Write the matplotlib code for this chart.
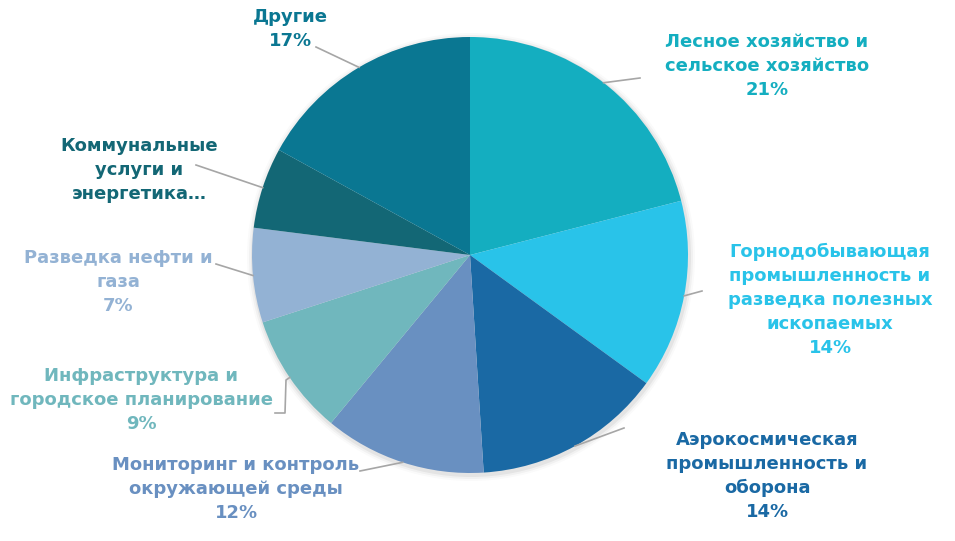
import numpy as np
import matplotlib.pyplot as plt

# Доли отраслей, %
labels = [
    "Лесное хозяйство и\nсельское хозяйство",
    "Горнодобывающая\nпромышленность и\nразведка полезных\nископаемых",
    "Аэрокосмическая\nпромышленность и\nоборона",
    "Мониторинг и контроль\nокружающей среды",
    "Инфраструктура и\nгородское планирование",
    "Разведка нефти и\nгаза",
    "Коммунальные\nуслуги и\nэнергетика…",
    "Другие",
]
shares = [21, 14, 14, 12, 9, 7, 6, 17]
show_pct = [True, True, True, True, True, True, False, True]
colors = ["#14AEC0", "#29C3E9", "#1A69A4", "#6990C1",
          "#70B7BD", "#93B2D4", "#136775", "#0A7792"]

# где стоят подписи (пиксели, y сверху) и куда идут выноски
label_xy = [(767, 66), (830, 300), (767, 476), (236, 489),
            (141, 400), (118, 282), (139, 170), (290, 29)]
leader_end = [[(640, 78)], [(702, 291)], [(624, 428)], [(360, 471)],
              [(286, 380), (285, 413), (275, 413)], [(216, 264)],
              [(196, 165)], [(316, 47)]]

W, H = 955, 541
fig = plt.figure(figsize=(W / 100, H / 100), dpi=100)
ax = fig.add_axes([0, 0, 1, 1])

cx, cy, r = 470, H - 255, 218

# лёгкая тень под кругом
for k, a in enumerate([0.05, 0.035, 0.02]):
    ax.add_patch(plt.Circle((cx + 1, cy - 2), r + 2 + k * 2, color="#000000",
                            alpha=a, lw=0, zorder=0))

wedges, _ = ax.pie(shares, colors=colors, startangle=90, counterclock=False,
                   center=(cx, cy), radius=r, frame=True,
                   wedgeprops=dict(linewidth=0))
ax.set_xlim(0, W)
ax.set_ylim(0, H)
ax.axis("off")

for i, w in enumerate(wedges):
    mid = np.deg2rad((w.theta1 + w.theta2) / 2)
    sx, sy = cx + r * np.cos(mid), cy + r * np.sin(mid)
    pts = [(sx, sy)] + [(x, H - y) for x, y in leader_end[i]]
    xs, ys = zip(*pts)
    ax.plot(xs, ys, color="#A6A6A6", lw=1.2, zorder=1)

    txt = labels[i]
    if show_pct[i]:
        txt += f"\n{shares[i]}%"
    lx, ly = label_xy[i]
    ax.text(lx, H - ly, txt, ha="center", va="center", color=colors[i],
            fontsize=13, fontweight="bold", family="DejaVu Sans",
            linespacing=1.42)

fig.savefig("out.png", dpi=100, facecolor="white")
